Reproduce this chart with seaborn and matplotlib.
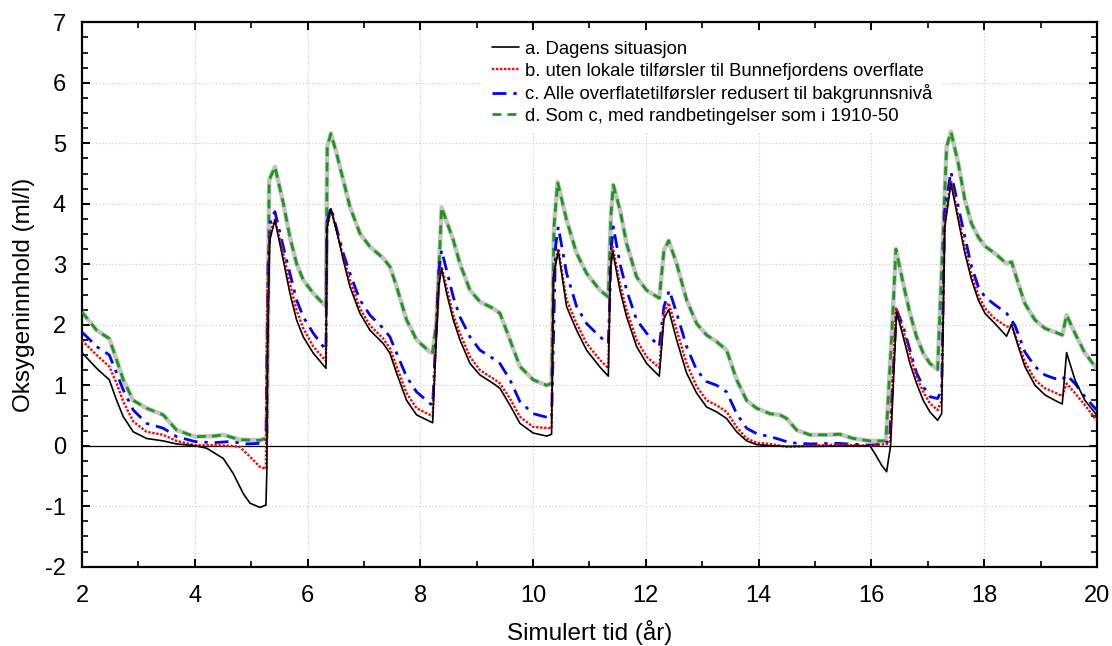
import numpy as np
import pandas as pd
import matplotlib
matplotlib.use("Agg")
import matplotlib.pyplot as plt
from matplotlib.ticker import MultipleLocator
import seaborn as sns

# ── Data ────────────────────────────────────────────────────────────────────
T_A = [2.0, 2.26, 2.485, 2.615, 2.733, 2.91, 3.147, 3.442, 3.678, 4.004, 4.21, 4.506,
       4.683, 4.86, 4.98, 5.156, 5.263, 5.28, 5.29, 5.33, 5.422, 5.57, 5.688, 5.806,
       5.925, 6.102, 6.327, 6.345, 6.415, 6.516, 6.634, 6.752, 6.929, 7.107, 7.343,
       7.461, 7.58, 7.757, 7.934, 8.219, 8.27, 8.33, 8.378, 8.467, 8.585, 8.703, 8.881,
       9.058, 9.294, 9.412, 9.59, 9.767, 10.003, 10.24, 10.328, 10.36, 10.447, 10.594,
       10.772, 10.949, 11.186, 11.334, 11.37, 11.411, 11.541, 11.659, 11.836, 12.014,
       12.238, 12.321, 12.404, 12.546, 12.723, 12.9, 13.078, 13.255, 13.432, 13.61,
       13.787, 13.964, 14.2, 14.5, 15.0, 15.5, 15.973, 16.062, 16.18, 16.269, 16.34,
       16.446, 16.564, 16.683, 16.801, 16.919, 17.037, 17.174, 17.245, 17.3, 17.41,
       17.54, 17.658, 17.776, 17.895, 18.013, 18.19, 18.397, 18.486, 18.604, 18.722,
       18.9, 19.077, 19.254, 19.384, 19.461, 19.609, 19.786, 19.993]
Y_A = [1.54, 1.28, 1.09, 0.75, 0.48, 0.23, 0.12, 0.08, 0.03, 0.0, -0.04, -0.21,
       -0.46, -0.79, -0.95, -1.02, -0.98, -0.37, 1.5, 3.4, 3.73, 3.07, 2.52, 2.08,
       1.80, 1.53, 1.28, 3.6, 3.92, 3.56, 3.07, 2.63, 2.19, 1.91, 1.69,
       1.53, 1.20, 0.75, 0.51, 0.38, 1.5, 2.65, 2.93, 2.52, 2.08, 1.75, 1.36,
       1.17, 1.03, 0.95, 0.67, 0.37, 0.21, 0.16, 0.19, 2.8, 3.22, 2.30,
       1.91, 1.58, 1.30, 1.15, 2.9, 3.22, 2.57, 2.13, 1.64, 1.36,
       1.15, 2.1, 2.25, 1.75, 1.20, 0.87, 0.64, 0.56, 0.45, 0.23,
       0.08, 0.02, 0.0, -0.01, -0.01, -0.005, 0.0, -0.13, -0.32, -0.43, 0.0,
       2.21, 1.80, 1.36, 1.03, 0.75, 0.56, 0.42, 0.53, 3.6, 4.34,
       3.73, 3.18, 2.74, 2.41, 2.19, 2.02, 1.81, 2.01, 1.64, 1.31,
       1.00, 0.84, 0.75, 0.69, 1.54, 1.09, 0.75, 0.51]

T_B = [2.0, 2.26, 2.485, 2.615, 2.733, 2.91, 3.147, 3.442, 3.678, 4.004, 4.33, 4.624,
       4.80, 4.98, 5.156, 5.263, 5.285, 5.33, 5.422, 5.57, 5.688, 5.806, 5.925, 6.102,
       6.327, 6.345, 6.415, 6.634, 6.752, 6.929, 7.107, 7.343, 7.461, 7.58, 7.757,
       7.934, 8.17, 8.219, 8.27, 8.33, 8.378, 8.585, 8.703, 8.881, 9.058, 9.294, 9.412,
       9.59, 9.767, 10.003, 10.328, 10.36, 10.447, 10.594, 10.772, 10.949, 11.186,
       11.334, 11.37, 11.411, 11.541, 11.659, 11.836, 12.014, 12.238, 12.321, 12.404,
       12.546, 12.723, 12.9, 13.078, 13.255, 13.432, 13.61, 13.787, 13.964, 14.2, 14.5,
       14.9, 15.4, 15.97, 16.27, 16.33, 16.434, 16.564, 16.683, 16.801, 16.919, 17.037,
       17.174, 17.245, 17.3, 17.41, 17.54, 17.658, 17.776, 17.895, 18.013, 18.19,
       18.397, 18.486, 18.604, 18.722, 18.9, 19.077, 19.254, 19.384, 19.461, 19.609,
       19.786, 19.993]
Y_B = [1.74, 1.50, 1.31, 1.03, 0.73, 0.40, 0.23, 0.18, 0.08, 0.01, 0.01, 0.0,
       -0.02, -0.18, -0.35, -0.38, 2.5, 3.5, 3.74, 3.18, 2.68, 2.24, 1.94, 1.64,
       1.40, 3.6, 3.90, 3.12, 2.74, 2.27, 1.99, 1.77, 1.61, 1.31, 0.87,
       0.62, 0.51, 0.48, 1.6, 2.75, 2.96, 2.16, 1.86, 1.47, 1.25, 1.11, 1.03,
       0.78, 0.48, 0.31, 0.29, 2.8, 3.26, 2.41, 2.02, 1.69, 1.42,
       1.28, 2.9, 3.29, 2.68, 2.24, 1.75, 1.47, 1.29, 2.2, 2.36,
       1.91, 1.36, 0.98, 0.75, 0.67, 0.56, 0.31, 0.12, 0.05, 0.03, -0.02,
       0.0, 0.02, 0.0, 0.03, 0.07, 2.27, 1.91, 1.50, 1.14, 0.89, 0.70,
       0.59, 0.75, 3.7, 4.39, 3.79, 3.26, 2.82, 2.49, 2.27, 2.10,
       1.97, 1.98, 1.69, 1.39, 1.09, 0.95, 0.88, 0.82, 1.03, 0.87,
       0.67, 0.42]

T_C = [2.0, 2.26, 2.485, 2.615, 2.733, 2.91, 3.147, 3.442, 3.678, 4.004, 4.33, 4.624,
       4.92, 5.156, 5.263, 5.30, 5.35, 5.422, 5.57, 5.688, 5.806, 5.925, 6.102, 6.327,
       6.345, 6.415, 6.634, 6.752, 6.929, 7.107, 7.343, 7.461, 7.58, 7.757, 7.934,
       8.17, 8.219, 8.33, 8.378, 8.585, 8.703, 8.881, 9.058, 9.294, 9.412, 9.59, 9.767,
       10.003, 10.328, 10.40, 10.447, 10.594, 10.772, 10.949, 11.186, 11.334, 11.39,
       11.423, 11.541, 11.659, 11.836, 12.014, 12.238, 12.321, 12.416, 12.546, 12.723,
       12.9, 13.078, 13.255, 13.432, 13.61, 13.787, 13.964, 14.2, 14.318, 14.555, 14.91,
       15.382, 15.973, 16.269, 16.328, 16.446, 16.564, 16.683, 16.801, 16.919, 17.037,
       17.174, 17.245, 17.3, 17.41, 17.54, 17.658, 17.776, 17.895, 18.013, 18.19,
       18.397, 18.545, 18.722, 18.9, 19.077, 19.254, 19.384, 19.461, 19.609, 19.786,
       19.993]
Y_C = [1.88, 1.64, 1.50, 1.20, 0.92, 0.59, 0.37, 0.29, 0.15, 0.07, 0.05, 0.07,
       0.03, 0.04, 0.07, 3.0, 3.75, 3.87, 3.29, 2.85, 2.41, 2.13, 1.86, 1.58,
       3.7, 3.94, 3.18, 2.85, 2.41, 2.16, 1.94, 1.80, 1.53, 1.14, 0.89,
       0.70, 0.67, 2.9, 3.23, 2.46, 2.13, 1.80, 1.58, 1.44, 1.36, 1.09, 0.73,
       0.53, 0.45, 3.3, 3.62, 2.85, 2.30, 2.02, 1.80, 1.69, 3.3,
       3.62, 3.01, 2.57, 2.08, 1.86, 1.64, 2.3, 2.57, 2.19, 1.64,
       1.25, 1.06, 1.00, 0.89, 0.53, 0.29, 0.20, 0.15, 0.12, 0.05, 0.03,
       0.04, 0.01, 0.03, 0.20, 2.25, 1.97, 1.58, 1.20, 0.98, 0.81,
       0.78, 0.92, 3.9, 4.53, 3.95, 3.45, 2.96, 2.63, 2.46, 2.33,
       2.19, 1.99, 1.55, 1.31, 1.17, 1.11, 1.09, 1.17, 1.03, 0.81,
       0.59]

T_D = [2.0, 2.26, 2.485, 2.615, 2.733, 2.91, 3.147, 3.442, 3.678, 4.004, 4.33, 4.506,
       4.80, 5.156, 5.245, 5.28, 5.32, 5.422, 5.57, 5.688, 5.806, 5.925, 6.102, 6.327,
       6.35, 6.415, 6.516, 6.634, 6.752, 6.929, 7.107, 7.343, 7.461, 7.58, 7.757, 7.934,
       8.17, 8.219, 8.29, 8.378, 8.585, 8.703, 8.881, 9.058, 9.294, 9.412, 9.59, 9.767,
       10.003, 10.24, 10.328, 10.37, 10.435, 10.594, 10.772, 10.949, 11.186, 11.334,
       11.38, 11.423, 11.541, 11.659, 11.836, 12.014, 12.238, 12.321, 12.404, 12.546,
       12.723, 12.9, 13.078, 13.255, 13.432, 13.61, 13.787, 13.964, 14.2, 14.378, 14.496,
       14.673, 14.91, 15.205, 15.441, 15.678, 15.973, 16.257, 16.375, 16.434, 16.564,
       16.683, 16.801, 16.919, 17.037, 17.174, 17.333, 17.41, 17.54, 17.658, 17.776,
       17.895, 18.013, 18.19, 18.397, 18.486, 18.604, 18.722, 18.9, 19.077, 19.254,
       19.384, 19.461, 19.609, 19.786, 19.993]
Y_D = [2.21, 1.91, 1.77, 1.42, 1.09, 0.75, 0.62, 0.51, 0.26, 0.15, 0.16, 0.18,
       0.10, 0.09, 0.12, 0.15, 4.39, 4.61, 4.01, 3.45, 3.01, 2.74, 2.52, 2.30,
       4.95, 5.16, 4.83, 4.39, 3.95, 3.51, 3.29, 3.10, 2.96, 2.63, 2.08, 1.75,
       1.55, 1.54, 2.08, 3.94, 3.40, 3.01, 2.57, 2.38, 2.27, 2.19, 1.75, 1.31,
       1.09, 1.00, 1.03, 3.6, 4.36, 3.73, 3.18, 2.85, 2.57, 2.46,
       3.8, 4.31, 3.90, 3.34, 2.79, 2.57, 2.44, 3.23, 3.39, 3.01,
       2.41, 2.02, 1.83, 1.72, 1.58, 1.09, 0.75, 0.62, 0.53, 0.51, 0.45,
       0.26, 0.18, 0.18, 0.19, 0.12, 0.08, 0.08, 2.09, 3.25, 2.68,
       2.19, 1.80, 1.53, 1.36, 1.26, 4.94, 5.19, 4.67, 4.06, 3.67,
       3.45, 3.30, 3.18, 3.01, 3.04, 2.68, 2.35, 2.08, 1.94, 1.88,
       1.83, 2.16, 1.86, 1.53, 1.28]

LABELS = ["a. Dagens situasjon",
          "b. uten lokale tilførsler til Bunnefjordens overflate",
          "c. Alle overflatetilførsler redusert til bakgrunnsnivå",
          "d. Som c, med randbetingelser som i 1910-50"]

# ── Style ───────────────────────────────────────────────────────────────────
sns.set_theme(style="ticks")
plt.rcParams["font.family"] = ["Liberation Sans", "DejaVu Sans"]
plt.rcParams["axes.unicode_minus"] = False
plt.rcParams["text.color"] = "black"
plt.rcParams["axes.labelcolor"] = "black"

fig = plt.figure(figsize=(11.12, 6.46), dpi=100)
ax = fig.add_axes([0.0737, 0.1227, 0.9128, 0.8428])

ax.axhline(0, color="black", lw=0.9, zorder=1)

# d: grey underlay + green dashes
sns.lineplot(x=T_D, y=Y_D, ax=ax, color="#c4c4c4", lw=3.2, estimator=None,
             sort=False, zorder=2)
sns.lineplot(x=T_D, y=Y_D, ax=ax, color="#1a9a1a", lw=2.0, estimator=None,
             sort=False, linestyle=(0, (3.2, 2.2)), zorder=3)
sns.lineplot(x=T_C, y=Y_C, ax=ax, color="#0000ff", lw=2.0, estimator=None,
             sort=False, linestyle=(0, (5, 2.5, 1.2, 2.5)), zorder=4)
sns.lineplot(x=T_B, y=Y_B, ax=ax, color="#ff0000", lw=1.7, estimator=None,
             sort=False, linestyle=(0, (1, 0.7)), zorder=5)
sns.lineplot(x=T_A, y=Y_A, ax=ax, color="black", lw=1.2, estimator=None,
             sort=False, zorder=6)

lines = ax.get_lines()
# order in lines: axhline, d-grey, d-green, c, b, a
handles = [lines[5], lines[4], lines[3], lines[2]]
leg = ax.legend(handles, LABELS, loc="upper left", bbox_to_anchor=(0.3955, 0.981),
                frameon=True, fancybox=False, fontsize=13.3, labelspacing=0.25,
                handlelength=1.5, handletextpad=0.3, borderpad=0.45,
                borderaxespad=0)
leg.get_frame().set_facecolor("white")
leg.get_frame().set_edgecolor("none")
leg.get_frame().set_alpha(1)

ax.set_xlim(2, 20)
ax.set_ylim(-2, 7)
ax.xaxis.set_major_locator(MultipleLocator(2))
ax.xaxis.set_minor_locator(MultipleLocator(1))
ax.yaxis.set_major_locator(MultipleLocator(1))
ax.yaxis.set_minor_locator(MultipleLocator(0.25))
ax.grid(True, which="major", color="#c8c8c8", linestyle=(0, (1, 2)), lw=0.8)
ax.set_axisbelow(True)

ax.tick_params(which="both", direction="in", top=True, right=True,
               labelsize=17, colors="black", width=1.4)
ax.tick_params(axis="x", which="both", pad=13)
ax.tick_params(axis="y", which="both", pad=11.5)
ax.tick_params(which="major", length=6)
ax.tick_params(which="minor", length=4, width=1.2)
for sp in ax.spines.values():
    sp.set_linewidth(1.6)
    sp.set_color("black")

ax.set_xlabel("Simulert tid (år)", fontsize=17.5, labelpad=9.5, color="black")
ax.set_ylabel("Oksygeninnhold (ml/l)", fontsize=17.5, labelpad=7, color="black")

fig.savefig("out.png", dpi=100, facecolor="white")
